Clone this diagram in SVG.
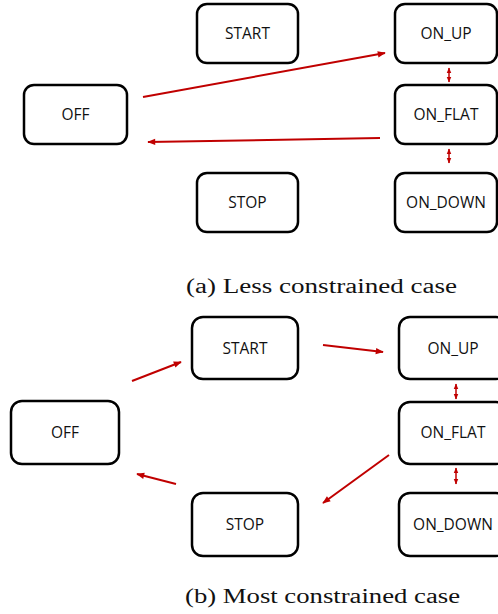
<svg xmlns="http://www.w3.org/2000/svg" width="498" height="614" viewBox="0 0 498 614">
<style>
.box{fill:#fff;stroke:#000;stroke-width:2.5}
.lbl{font-family:"Open Sans","Noto Sans",sans-serif;font-size:15.5px;fill:#111;text-anchor:middle}
.cap{font-family:"Liberation Serif","DejaVu Serif",serif;font-size:20px;fill:#111}
.ar{stroke:#C00000;stroke-width:2;fill:none;marker-end:url(#ah)}
.dar{stroke:#C00000;stroke-width:1.5;fill:none;marker-start:url(#sh);marker-end:url(#sh)}
</style>
<defs>
<marker id="ah" viewBox="0 0 10 10" refX="9" refY="5" markerWidth="9" markerHeight="8" markerUnits="userSpaceOnUse" orient="auto"><path d="M0,1 L10,5 L0,9 z" fill="#C00000"/></marker>
<marker id="sh" viewBox="0 0 10 10" refX="9" refY="5" markerWidth="6" markerHeight="6" markerUnits="userSpaceOnUse" orient="auto-start-reverse"><path d="M0,1 L10,5 L0,9 z" fill="#C00000"/></marker>
</defs>

<!-- (a) -->
<g id="a-start"><rect class="box" x="197" y="4" width="101" height="59" rx="10"/><text class="lbl" x="247.5" y="39">START</text></g>
<g id="a-onup"><rect class="box" x="395" y="4" width="102" height="59" rx="10"/><text class="lbl" x="446" y="39">ON_UP</text></g>
<g id="a-off"><rect class="box" x="24" y="85" width="103" height="59" rx="10"/><text class="lbl" x="75.5" y="120">OFF</text></g>
<g id="a-onflat"><rect class="box" x="395" y="85" width="102" height="59" rx="10"/><text class="lbl" x="446" y="120">ON_FLAT</text></g>
<g id="a-stop"><rect class="box" x="197" y="173" width="101" height="59" rx="10"/><text class="lbl" x="247.5" y="208">STOP</text></g>
<g id="a-ondown"><rect class="box" x="395" y="173" width="102" height="59" rx="10"/><text class="lbl" x="446" y="208">ON_DOWN</text></g>
<g id="a-connectors">
<line class="ar" x1="143" y1="97" x2="385" y2="53"/>
<line class="ar" x1="380" y1="138" x2="148" y2="142"/>
<line class="dar" x1="449" y1="68" x2="449" y2="82"/>
<line class="dar" x1="449" y1="149" x2="449" y2="163"/>
</g>
<text class="cap" x="186" y="293" textLength="271" lengthAdjust="spacingAndGlyphs">(a) Less constrained case</text>

<!-- (b) -->
<g id="b-start"><rect class="box" x="192" y="317" width="106" height="62" rx="11"/><text class="lbl" x="245" y="353.5">START</text></g>
<g id="b-onup"><rect class="box" x="399" y="317" width="108" height="62" rx="11"/><text class="lbl" x="453" y="353.5">ON_UP</text></g>
<g id="b-off"><rect class="box" x="11" y="401" width="108" height="63" rx="11"/><text class="lbl" x="65" y="438">OFF</text></g>
<g id="b-onflat"><rect class="box" x="399" y="402" width="108" height="62" rx="11"/><text class="lbl" x="453" y="438">ON_FLAT</text></g>
<g id="b-stop"><rect class="box" x="192" y="493" width="106" height="63" rx="11"/><text class="lbl" x="245" y="530">STOP</text></g>
<g id="b-ondown"><rect class="box" x="399" y="493" width="108" height="63" rx="11"/><text class="lbl" x="453" y="530">ON_DOWN</text></g>
<g id="b-connectors">
<line class="ar" x1="132" y1="381" x2="181" y2="362"/>
<line class="ar" x1="323" y1="345" x2="383" y2="352"/>
<line class="ar" x1="389" y1="455" x2="323" y2="503"/>
<line class="ar" x1="176" y1="484" x2="137" y2="474"/>
<line class="dar" x1="456" y1="384" x2="456" y2="399"/>
<line class="dar" x1="456" y1="468" x2="456" y2="484"/>
</g>
<text class="cap" x="185" y="603" textLength="275" lengthAdjust="spacingAndGlyphs">(b) Most constrained case</text>
</svg>
